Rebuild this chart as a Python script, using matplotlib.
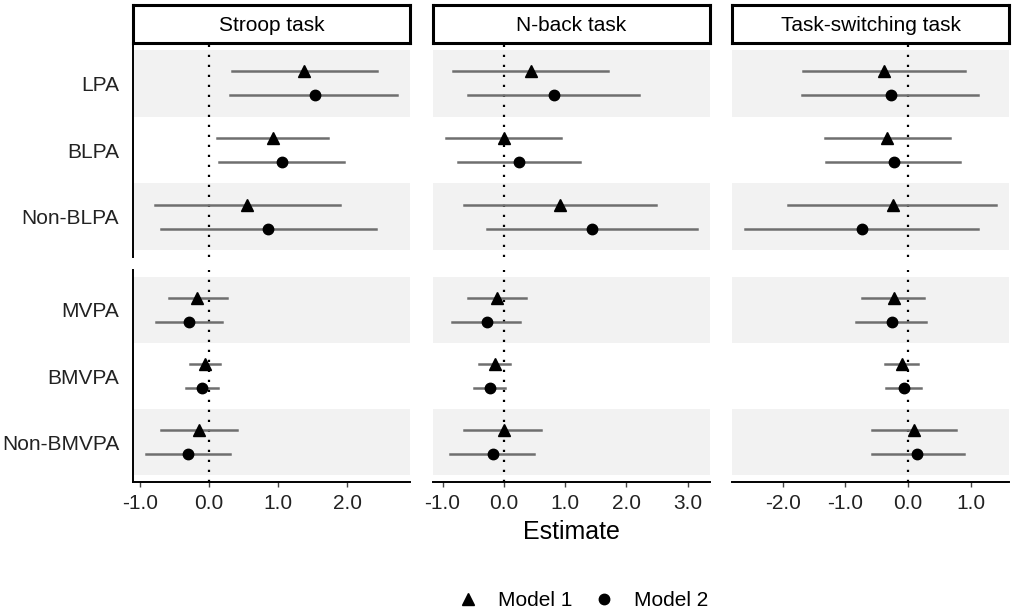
import numpy as np
import matplotlib
matplotlib.use("Agg")
import matplotlib.pyplot as plt
from matplotlib.lines import Line2D

plt.rcParams['font.family'] = ['Liberation Sans', 'DejaVu Sans']
plt.rcParams['axes.unicode_minus'] = False

tasks = ['Stroop task', 'N-back task', 'Task-switching task']
top_rows = ['LPA', 'BLPA', 'Non-BLPA']
bottom_rows = ['MVPA', 'BMVPA', 'Non-BMVPA']

# estimates [task][row], rows: LPA, BLPA, Non-BLPA, MVPA, BMVPA, Non-BMVPA
m1_est = [[1.38, 0.92, 0.55, -0.17, -0.06, -0.15],
          [0.44, 0.00, 0.92, -0.11, -0.15, 0.00],
          [-0.38, -0.33, -0.24, -0.22, -0.10, 0.10]]
m1_lo = [[0.33, 0.12, -0.79, -0.58, -0.28, -0.69],
         [-0.83, -0.95, -0.65, -0.59, -0.40, -0.65],
         [-1.67, -1.33, -1.92, -0.74, -0.37, -0.58]]
m1_hi = [[2.43, 1.73, 1.90, 0.26, 0.16, 0.40],
         [1.70, 0.94, 2.49, 0.37, 0.10, 0.61],
         [0.91, 0.67, 1.41, 0.26, 0.16, 0.76]]

m2_est = [[1.53, 1.06, 0.86, -0.29, -0.10, -0.30],
          [0.82, 0.25, 1.44, -0.28, -0.23, -0.18],
          [-0.28, -0.22, -0.74, -0.26, -0.06, 0.15]]
m2_lo = [[0.31, 0.145, -0.69, -0.77, -0.33, -0.92],
         [-0.58, -0.75, -0.28, -0.85, -0.49, -0.87],
         [-1.70, -1.31, -2.61, -0.83, -0.35, -0.58]]
m2_hi = [[2.73, 1.95, 2.42, 0.19, 0.135, 0.31],
         [2.21, 1.25, 3.16, 0.26, 0.02, 0.49],
         [1.12, 0.83, 1.11, 0.28, 0.21, 0.89]]

x_ticks = [[-1, 0, 1, 2], [-1, 0, 1, 2, 3], [-2, -1, 0, 1]]

W, H = 1013, 612
fig = plt.figure(figsize=(W / 100, H / 100), dpi=100)

col_left = [133, 433, 732]
col_w = 277
line_col = '#6f6f6f'
band_col = '#f2f2f2'
fs = 15


def fx(px):
    return px / W


def fy(py):
    return 1 - py / H


for t, task in enumerate(tasks):
    # x limits like ggplot: 5% expansion of data range
    lo = min(m1_lo[t] + m2_lo[t])
    hi = max(m1_hi[t] + m2_hi[t])
    pad = 0.05 * (hi - lo)
    xlim = (lo - pad, hi + pad)

    for part, (y_top, y_bot) in enumerate([(43, 257), (270, 482)]):
        ax = fig.add_axes([fx(col_left[t]), fy(y_bot), fx(col_w), (y_bot - y_top) / H])
        rows = top_rows if part == 0 else bottom_rows
        idx = range(0, 3) if part == 0 else range(3, 6)
        ypos = [3, 2, 1]
        for k, (i, yp) in enumerate(zip(idx, ypos)):
            if k != 1:
                ax.axhspan(yp - 0.5, yp + 0.5, color=band_col, zorder=0, lw=0)
            ax.plot([m1_lo[t][i], m1_hi[t][i]], [yp + 0.18] * 2, color=line_col, lw=1.8, zorder=2)
            ax.plot([m2_lo[t][i], m2_hi[t][i]], [yp - 0.18] * 2, color=line_col, lw=1.8, zorder=2)
            ax.plot(m1_est[t][i], yp + 0.18, marker='^', ms=8, color='black', zorder=3)
            ax.plot(m2_est[t][i], yp - 0.18, marker='o', ms=7.5, color='black', zorder=3)
        ax.axvline(0, color='black', ls=(0, (1, 3.5)), lw=1.6, zorder=1)
        ax.set_xlim(xlim)
        ax.set_ylim(0.4, 3.6)
        for s in ['top', 'right']:
            ax.spines[s].set_visible(False)
        ax.spines['left'].set_visible(t == 0)
        ax.spines['left'].set_linewidth(1.4)
        if t == 0:
            ax.set_yticks(ypos)
            ax.set_yticklabels(rows, fontsize=fs, color='#222222')
            ax.tick_params(axis='y', length=0, pad=10)
        else:
            ax.set_yticks([])
        if part == 1:
            ax.spines['bottom'].set_linewidth(1.4)
            ax.set_xticks(x_ticks[t])
            ax.set_xticklabels([f"{v:.1f}" for v in x_ticks[t]], fontsize=fs, color='#222222')
            ax.tick_params(axis='x', length=3.5, width=1, color='#444444', pad=5)
        else:
            ax.spines['bottom'].set_visible(False)
            ax.set_xticks([])

    # facet strip
    sax = fig.add_axes([fx(col_left[t]), fy(43), fx(col_w), 38 / H])
    sax.set_xticks([])
    sax.set_yticks([])
    for s in sax.spines.values():
        s.set_linewidth(2.2)
        s.set_color('black')
    sax.text(0.5, 0.47, task, ha='center', va='center', fontsize=fs, transform=sax.transAxes)

fig.text(fx(571.5), fy(532), 'Estimate', ha='center', va='center', fontsize=18)

handles = [Line2D([], [], marker='^', ms=8, color='black', ls='none'),
           Line2D([], [], marker='o', ms=7.5, color='black', ls='none')]
fig.legend(handles, ['Model 1', 'Model 2'], loc='center', bbox_to_anchor=(fx(583), fy(601)),
           ncol=2, frameon=False, fontsize=fs, handlelength=1.0, handletextpad=0.95,
           columnspacing=1.0)

fig.savefig('out.png', dpi=100)
